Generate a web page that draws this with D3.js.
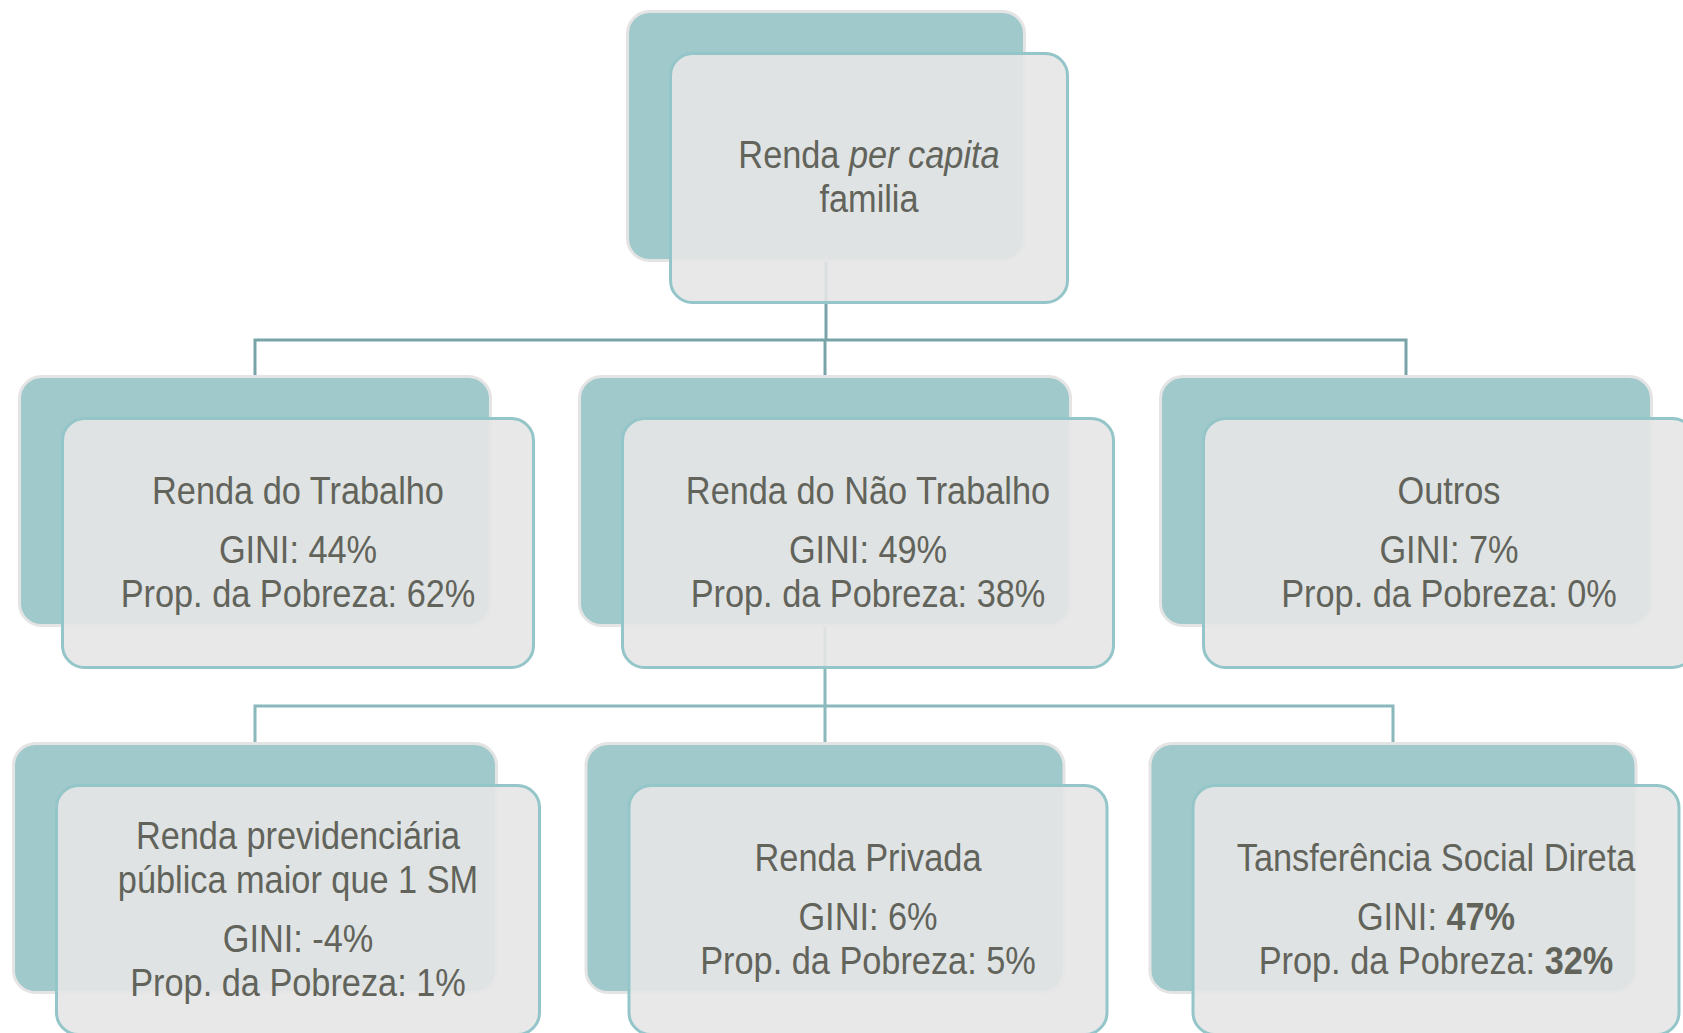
<!DOCTYPE html>
<html>
<head>
<meta charset="utf-8">
<script src="https://cdnjs.cloudflare.com/ajax/libs/d3/7.8.5/d3.min.js"></script>
<style>
    body { margin: 0; background: #ffffff; }
</style>
</head>
<body>
<div class="Organograma"></div>
<script>
// dados do organograma (texto entre * fica em itálico)
const raiz = ["Renda *per capita*", "familia"];

const fontes = ["Renda do Trabalho", "Renda do Não Trabalho", "Outros"];
const giniFontes = [44, 49, 7];
const pobrezaFontes = [62, 38, 0];

const subfontes = [["Renda previdenciária", "pública maior que 1 SM"], ["Renda Privada"], ["Tansferência Social Direta"]];
const giniSub = [-4, 6, 47];
const pobrezaSub = [1, 5, 32];
const destaqueSub = [false, false, true];
const paiSub = "Renda do Não Trabalho";

// layout
const W = 1683, H = 1033;
const BOX_H = 252, DX = 43, DY = 42;
const colX = [
    d3.scaleOrdinal([0], [826]),
    d3.scaleOrdinal([0, 1, 2], [255, 825, 1406]),
    d3.scaleOrdinal([0, 1, 2], [255, 825, 1393])
];
const boxW = [[400], [474, 494, 494], [486, 481, 489]];
const topY = d3.scaleOrdinal([0, 1, 2], [10, 375, 742]);
const busY = [340, 706];
const corLinha = ["#79a4a7", "#8ab8bc"];

let arvore = {
    nome: raiz,
    children: fontes.map((f, i) => ({
        nome: [f], gini: giniFontes[i], pobreza: pobrezaFontes[i], destaque: false,
        children: f == paiSub ? subfontes.map((s, j) => ({
            nome: s, gini: giniSub[j], pobreza: pobrezaSub[j], destaque: destaqueSub[j]
        })) : undefined
    }))
};

let root = d3.hierarchy(arvore);
[0, 1, 2].forEach(d => {
    root.descendants().filter(n => n.depth == d).forEach((n, i) => {
        n.idx = i;
        n.cx = colX[d](i);
        n.w = boxW[d][i];
        n.top = topY(d);
    });
});

let svg = d3.select(".Organograma")
    .append("svg")
    .attr("width", W)
    .attr("height", H)
    .style("display", "block");

svg.append("rect").attr("width", W).attr("height", H).attr("fill", "#ffffff");

// conectores
let gLinhas = svg.append("g").attr("fill", "none").attr("stroke-width", 3);
root.descendants().filter(n => n.children).forEach(n => {
    let kids = n.children;
    let yb = busY[n.depth];
    let cor = corLinha[n.depth];
    let p = d3.path();
    p.moveTo(n.cx, n.top + BOX_H);
    p.lineTo(n.cx, yb);
    p.moveTo(kids[0].cx - 1.5, yb);
    p.lineTo(kids[kids.length - 1].cx + 1.5, yb);
    kids.forEach(k => {
        p.moveTo(k.cx, yb);
        p.lineTo(k.cx, k.top + 2);
    });
    gLinhas.append("path").attr("d", p.toString()).attr("stroke", cor);
});

// caixas
let nos = svg.selectAll(".no")
    .data(root.descendants())
    .enter()
    .append("g")
    .attr("class", "no");

nos.append("rect")
    .attr("x", d => d.cx - d.w / 2 + 1.5)
    .attr("y", d => d.top + 1.5)
    .attr("width", d => d.w - 3)
    .attr("height", BOX_H - 3)
    .attr("rx", 22)
    .attr("fill", "#a0c9cc")
    .attr("stroke", "#e4e4e4")
    .attr("stroke-width", 3);

nos.append("rect")
    .attr("x", d => d.cx - d.w / 2 + 1.5 + DX)
    .attr("y", d => d.top + 1.5 + DY)
    .attr("width", d => d.w - 3)
    .attr("height", BOX_H - 3)
    .attr("rx", 22)
    .attr("fill", "#e6e6e6")
    .attr("fill-opacity", 0.9)
    .attr("stroke", "#94c5c9")
    .attr("stroke-width", 3);

// textos
nos.each(function (d) {
    let g = d3.select(this);
    let linhas = d.data.nome.map(t => t.split("*").map((s, k) => ({ t: s, i: k % 2 == 1, b: false })));
    let passos = linhas.map((l, k) => k == 0 ? 0 : 44);
    if (d.data.gini !== undefined) {
        linhas.push([{ t: "GINI: ", i: false, b: false }, { t: d.data.gini + "%", i: false, b: d.data.destaque }]);
        passos.push(59);
        linhas.push([{ t: "Prop. da Pobreza: ", i: false, b: false }, { t: d.data.pobreza + "%", i: false, b: d.data.destaque }]);
        passos.push(44);
    }
    let total = d3.sum(passos);
    let cx = d.cx + DX;
    let y = d.top + DY + BOX_H / 2 - total / 2 + 12;
    linhas.forEach((l, k) => {
        y += passos[k];
        let t = g.append("text")
            .attr("transform", "translate(" + cx + "," + y + ") scale(0.88,1)")
            .attr("text-anchor", "middle")
            .style("font-family", "'Liberation Sans', Arial, sans-serif")
            .style("font-size", "39px")
            .style("fill", "#62635b");
        l.filter(s => s.t.length).forEach(s => {
            t.append("tspan")
                .text(s.t)
                .style("font-style", s.i ? "italic" : "normal")
                .style("font-weight", s.b ? "bold" : "normal");
        });
    });
});
</script>
</body>
</html>
